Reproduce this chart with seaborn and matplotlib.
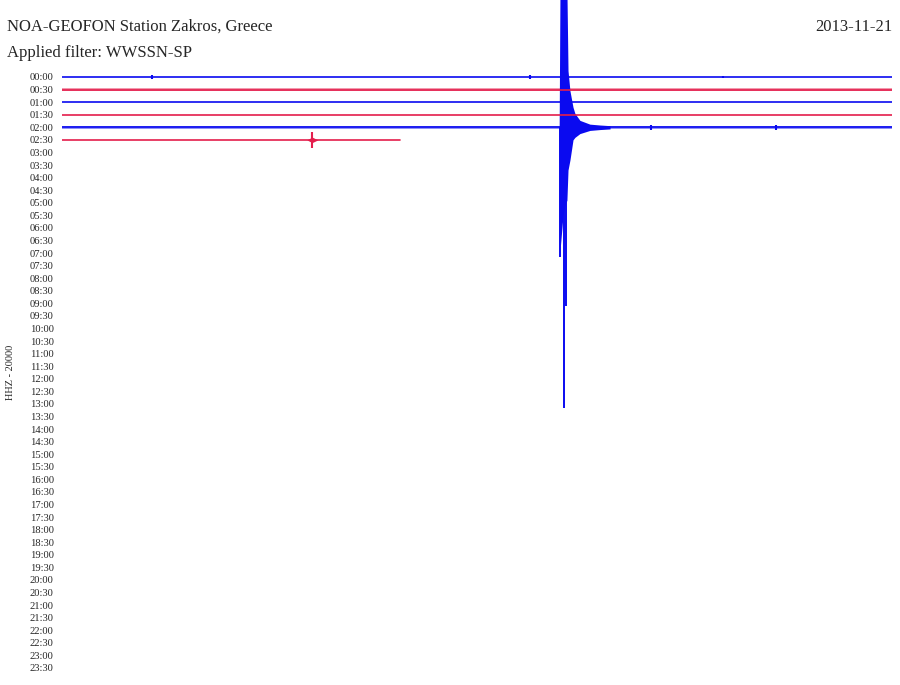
import numpy as np
import pandas as pd
import matplotlib
matplotlib.use("Agg")
import matplotlib.pyplot as plt
import seaborn as sns

# helicorder, 30 min per line, amplitudes in "line" units (1 = line spacing)
station = "NOA-GEOFON Station Zakros, Greece"
filter_name = "Applied filter: WWSSN-SP"
day = "2013-11-21"
channel = "HHZ - 20000"

row_labels = ["%02d:%02d" % (h, m) for h in range(24) for m in (0, 30)]

trace_rows = [0, 1, 2, 3, 4, 5]
trace_end = [30, 30, 30, 30, 30, 12.2]      # minutes recorded on each line
trace_noise = [0.04, 0.13, 0.04, 0.06, 0.13, 0.04]   # half-width of the background noise

# small blips (row, minute, amplitude)
blip_row = [0, 0, 0, 4, 4, 5]
blip_min = [3.25, 16.9, 23.9, 21.3, 25.8, 9.04]
blip_amp = [0.15, 0.12, 0.1, 0.2, 0.2, 0.65]

# the quake on the 02:00 line: envelope
quake_row = 4
quake_t = [17.97, 18.00, 18.11, 18.18, 18.25, 18.29, 18.36, 18.47, 18.54, 18.72, 19.08, 19.45, 19.81]
quake_up = [0.1, 11.0, 11.0, 11.0, 11.0, 4.5, 2.9, 1.6, 1.1, 0.55, 0.25, 0.18, 0.13]
quake_lo = [-0.1, -9.8, -7.0, -6.2, -5.8, -3.4, -2.6, -1.0, -0.8, -0.5, -0.25, -0.18, -0.13]
# single deep swings
spike_t = [18.00, 18.15, 18.22]
spike_lo = [-10.3, -22.3, -14.2]

blue = "#0a0af0"
red = "#e41e4c"
colors = [blue, red]

fig = plt.figure(figsize=(9, 6.85), dpi=100)
sns.set_style("white")
ax = fig.add_axes([62 / 900, 0, 830 / 900, 1])

df = pd.DataFrame({
    "row": np.repeat(trace_rows, 2),
    "t": np.ravel([[0, e] for e in trace_end]),
})
df["y"] = -df["row"]

for r, e, nz in zip(trace_rows, trace_end, trace_noise):
    c = colors[r % 2]
    sub = df[df["row"] == r]
    sns.lineplot(data=sub, x="t", y="y", color=c, lw=1.2, ax=ax, estimator=None)
    if nz > 0.1:
        ax.fill_between([0, e], [-r - nz] * 2, [-r + nz] * 2, color=c, lw=0, alpha=0.45)

for r, t, a in zip(blip_row, blip_min, blip_amp):
    ax.vlines(t, -r - a, -r + a, color=colors[r % 2], lw=1.5)
# the little burst on the 02:30 line
ax.fill_between([8.85, 9.04, 9.25], [-5, -5.22, -5], [-5, -4.78, -5], color=red, lw=0)

qc = colors[quake_row % 2]
ax.fill_between(quake_t, np.array(quake_lo) - quake_row, np.array(quake_up) - quake_row,
                color=qc, lw=0)
ax.vlines(spike_t, [-quake_row] * 3, np.array(spike_lo) - quake_row, color=qc, lw=1.4)

ax.set_xlim(0, 30)
ax.set_ylim(-(685 - 77) / 12.574, 77 / 12.574)

ax.set_yticks(-np.arange(len(row_labels)))
ax.set_yticklabels(row_labels, fontsize=7.6, family="Liberation Serif")
ax.tick_params(axis="y", length=0, pad=6)
ax.set_xticks([])
ax.set_xlabel("")
ax.set_ylabel("")
for s in ax.spines.values():
    s.set_visible(False)
ax.patch.set_alpha(0)

fig.text(7 / 900, 1 - 27 / 685, station, fontsize=12, family="Liberation Serif", va="center")
fig.text(7 / 900, 1 - 53 / 685, filter_name, fontsize=12, family="Liberation Serif", va="center")
fig.text(892 / 900, 1 - 27 / 685, day, fontsize=12, family="Liberation Serif", va="center", ha="right")
fig.text(11 / 900, 1 - 372 / 685, channel, fontsize=7.4, family="Liberation Serif",
         rotation=90, va="center", ha="center")

fig.savefig("out.png", dpi=100)
